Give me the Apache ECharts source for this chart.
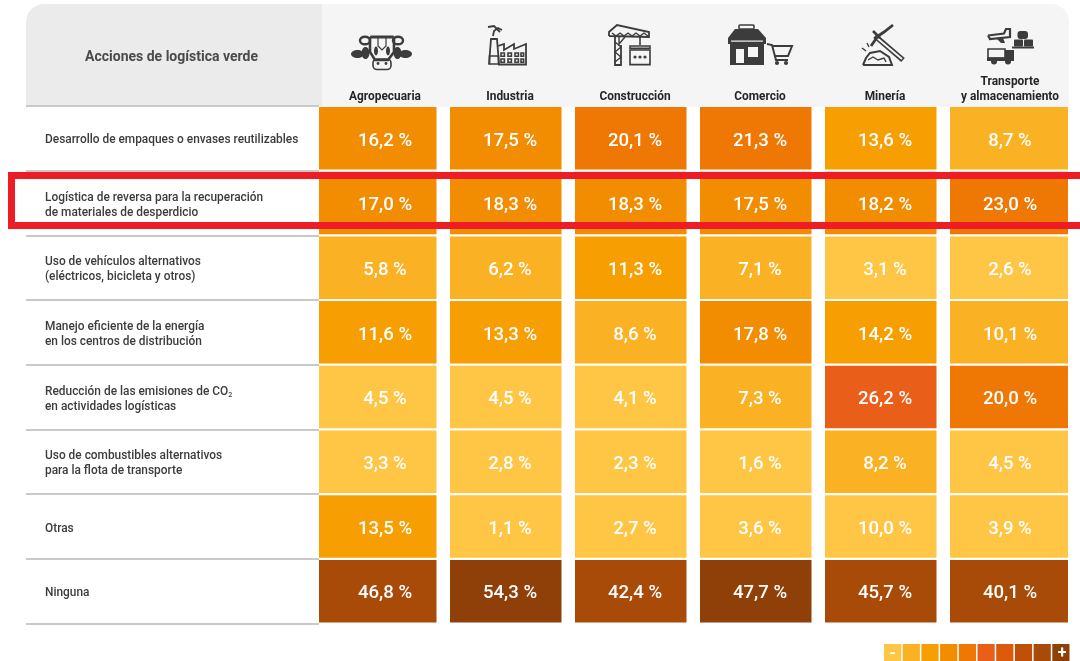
<!DOCTYPE html>
<html>
<head>
<meta charset="utf-8">
<style>
  html, body { margin: 0; padding: 0; background: #fff; }
  #chart { width: 1080px; height: 661px; }
</style>
<script src="https://cdn.jsdelivr.net/npm/echarts@6/dist/echarts.min.js"></script>
</head>
<body>
<div id="chart"></div>
<script>
const sectors = ['Agropecuaria', 'Industria', 'Construcción', 'Comercio', 'Minería', 'Transporte\ny almacenamiento']
const actions = [
  'Desarrollo de empaques o envases reutilizables',
  'Logística de reversa para la recuperación\nde materiales de desperdicio',
  'Uso de vehículos alternativos\n(eléctricos, bicicleta y otros)',
  'Manejo eficiente de la energía\nen los centros de distribución',
  'Reducción de las emisiones de CO2\nen actividades logísticas',
  'Uso de combustibles alternativos\npara la flota de transporte',
  'Otras',
  'Ninguna'
]
const values = [
  [16.2, 17.5, 20.1, 21.3, 13.6, 8.7],
  [17.0, 18.3, 18.3, 17.5, 18.2, 23.0],
  [5.8, 6.2, 11.3, 7.1, 3.1, 2.6],
  [11.6, 13.3, 8.6, 17.8, 14.2, 10.1],
  [4.5, 4.5, 4.1, 7.3, 26.2, 20.0],
  [3.3, 2.8, 2.3, 1.6, 8.2, 4.5],
  [13.5, 1.1, 2.7, 3.6, 10.0, 3.9],
  [46.8, 54.3, 42.4, 47.7, 45.7, 40.1]
]
// colour step of every cell (not strictly monotonic with the value)
const shades = [
  [3, 3, 4, 4, 2, 1],
  [3, 3, 3, 3, 3, 4],
  [1, 1, 2, 1, 0, 0],
  [2, 2, 1, 3, 2, 1],
  [0, 0, 0, 1, 5, 4],
  [0, 0, 0, 0, 1, 0],
  [2, 0, 0, 0, 0, 0],
  [8, 9, 8, 9, 8, 8]
]
const palette = ['#FFC645', '#FBB124', '#F79E02', '#F28C00', '#EF7703', '#E95F19', '#DB5A0C', '#C04F0A', '#A84A08', '#8F3F08']

const FONT = 'Roboto'
const INK = '#3c3c3c'
const PAPER = '#f5f5f5'

const cells = []
values.forEach((row, r) => row.forEach((v, c) => cells.push([c, r, v, shades[r][c]])))

function renderCell (params, api) {
  const col = api.value(0)
  const center = api.coord([col, api.value(1)])
  const band = api.size([1, 1])
  const left = center[0] - (col === 0 ? 66 : 60)
  const right = center[0] + (col === sectors.length - 1 ? 58 : 51.5)
  return {
    type: 'group',
    children: [
      {
        type: 'rect',
        shape: { x: left, y: center[1] - band[1] / 2 + 1, width: right - left, height: band[1] - 2.2 },
        style: { fill: api.visual('color') }
      },
      {
        type: 'text',
        style: {
          x: center[0],
          y: center[1] + 2.5,
          text: api.value(2).toFixed(1).replace('.', ',') + ' %',
          fill: '#fff',
          font: '500 18.6px ' + FONT,
          align: 'center',
          verticalAlign: 'middle'
        }
      }
    ]
  }
}

// small pictograms in the header
function box (x, y, width, height, filled, r) {
  return {
    type: 'rect',
    shape: { x, y, width, height, r: r || 0 },
    style: { fill: filled ? (filled === true ? INK : filled) : 'none', stroke: INK, lineWidth: filled ? 0 : 1.6 }
  }
}
function line (points, width) {
  return { type: 'polyline', shape: { points }, style: { fill: 'none', stroke: INK, lineWidth: width || 1.6 } }
}
function dot (cx, cy, r) {
  return { type: 'circle', shape: { cx, cy, r }, style: { fill: INK } }
}
function blob (cx, cy, rx, ry, filled) {
  return { type: 'ellipse', shape: { cx, cy, rx, ry }, style: { fill: filled ? INK : 'none', stroke: INK, lineWidth: filled ? 0 : 2.4 } }
}
function solid (points) {
  return { type: 'polygon', shape: { points }, style: { fill: INK } }
}

const icons = [
  // cow
  blob(365, 40.5, 5, 3.8), blob(398, 40.5, 5, 3.8),
  box(370, 35.5, 24, 3, true, 1),
  line([[370, 37], [370, 52], [375, 60], [388, 60], [394, 52], [394, 37]], 2.6),
  line([[378, 38], [378, 46], [382, 50], [386, 46], [386, 38]], 1.2),
  blob(376, 51, 2, 4.4, true), blob(388, 51, 2, 4.4, true),
  box(373, 59, 18, 10.5, false, 4),
  dot(378, 63.5, 1.4), dot(386, 63.5, 1.4),
  blob(357.5, 54, 6.5, 4, true), blob(365.5, 53, 4, 6, true),
  blob(405.5, 54, 6.5, 4, true), blob(397.5, 53, 4, 6, true),
  // factory
  line([[489, 64.5], [491, 39], [497, 39], [499, 64.5]], 1.8),
  box(489.5, 56, 9, 8, false),
  line([[493, 36], [494, 31], [498, 28], [502, 30]], 1.8),
  line([[488, 27], [494, 26], [500, 32]], 1.8),
  line([[498, 64.5], [526, 64.5], [526, 44], [514, 49], [514, 44], [504, 50], [504, 44], [498, 46]], 1.8),
  box(501, 53, 3.4, 3.2), box(508, 53, 3.4, 3.2), box(515, 53, 3.4, 3.2), box(521, 53, 2.6, 3.2),
  box(501, 59, 3.4, 3.2), box(508, 59, 3.4, 3.2), box(515, 59, 3.4, 3.2), box(521, 59, 2.6, 3.2),
  // crane
  line([[615, 37], [615, 65], [621, 65], [621, 45]], 1.8),
  line([[615, 42], [621, 47], [615, 52], [621, 57], [615, 62]], 1.4),
  line([[609, 36], [609, 32], [617, 25], [649, 32], [649, 37], [609, 36]], 1.8),
  line([[612, 33], [616, 36], [620, 33], [624, 36], [628, 33], [632, 36], [636, 33], [640, 36], [644, 33], [648, 36]], 1.4),
  line([[640, 37], [640, 45]]),
  line([[619, 37], [619, 44], [625, 37]], 1.4),
  box(630, 46, 20, 2.4), box(630, 50, 20, 14.6),
  dot(635, 57, 1.6), dot(640, 57, 1.6), dot(645, 57, 1.6),
  // shop
  box(739, 25, 15, 4, false, 1),
  solid([[735, 29], [758, 29], [766, 38], [766, 44], [728, 44], [728, 38]]),
  box(731, 40.5, 32, 1.2, PAPER),
  box(730, 44, 34, 21, true),
  box(736, 49, 8, 14, PAPER),
  box(748, 47, 10, 10, PAPER),
  line([[767, 44], [772, 45], [776, 60], [788, 60]], 2),
  line([[772, 46], [792, 46], [788, 56], [775, 56]], 2),
  dot(777, 63, 2.1), dot(786, 63, 2.1),
  // pick
  line([[875, 36], [903, 60]], 5.4),
  { type: 'polyline', shape: { points: [[877, 38], [902, 59]] }, style: { fill: 'none', stroke: PAPER, lineWidth: 2 } },
  line([[871, 46], [878, 36], [884, 32], [893, 25]], 2.8),
  line([[873, 31], [880, 38]], 2.6),
  line([[863, 65], [892, 65], [889, 57], [880, 51], [870, 53], [866, 58], [863, 65]], 2),
  line([[868, 60], [873, 57], [878, 60], [884, 58], [886, 62]], 1.4),
  line([[866, 51], [862, 48]], 1.4), line([[869, 47], [867, 43]], 1.4),
  // transport
  line([[988, 35.5], [1004, 33.5], [1006, 29], [1010, 29], [1010, 37], [990, 39], [988, 35.5]], 2.2),
  solid([[996, 38], [1003, 38], [1005, 43], [1001, 43]]),
  box(988, 49, 17, 9, false),
  box(1005, 50, 9, 9, true),
  box(987, 57.5, 27, 3.5, true),
  dot(994, 61.5, 3), dot(1008, 61.5, 3),
  box(1017.5, 31, 10.5, 8, true, 3),
  box(1014, 39.5, 9, 7, true, 1), box(1024, 39.5, 9, 7, true, 1),
  box(1012, 46.5, 22, 2, true)
].map(el => Object.assign(el, { z: 50 }))

const chart = echarts.init(document.getElementById('chart'))
chart.setOption({
  animation: false,
  backgroundColor: '#fff',
  grid: { left: 322.5, top: 106, width: 750, height: 517.6 },
  xAxis: {
    type: 'category',
    position: 'top',
    data: sectors,
    axisLine: { show: false },
    axisTick: { show: false },
    splitLine: { show: false },
    axisLabel: {
      interval: 0,
      margin: 2,
      color: '#262626',
      fontFamily: FONT,
      fontWeight: 700,
      fontSize: 11.9,
      lineHeight: 14.5,
      verticalAlign: 'bottom'
    }
  },
  yAxis: {
    type: 'category',
    inverse: true,
    data: actions,
    offset: 3.5,
    axisLine: { show: false },
    axisTick: { show: true, length: 293, lineStyle: { color: '#c9c9c9', width: 2 } },
    splitLine: { show: false },
    axisLabel: {
      interval: 0,
      margin: 274,
      align: 'left',
      color: INK,
      fontFamily: FONT,
      fontWeight: 500,
      fontSize: 11.9,
      lineHeight: 15,
      padding: [4, 0, 0, 0],
      formatter: value => value.replace('CO2', 'CO{sub|2}'),
      rich: { sub: { fontSize: 7, fontFamily: FONT, fontWeight: 500, color: INK, verticalAlign: 'bottom', padding: [5, 0, 0, 0] } }
    }
  },
  visualMap: {
    type: 'piecewise',
    dimension: 3,
    seriesIndex: 0,
    orient: 'horizontal',
    left: 884,
    top: 644,
    padding: 0,
    itemWidth: 17.2,
    itemHeight: 17,
    itemGap: 1.5,
    showLabel: false,
    itemSymbol: 'rect',
    hoverLink: false,
    pieces: palette.map((color, i) => ({ value: i, color }))
  },
  series: [
    {
      type: 'custom',
      coordinateSystem: 'cartesian2d',
      data: cells,
      encode: { x: 0, y: 1 },
      renderItem: renderCell
    }
  ],
  graphic: {
    elements: [
      { type: 'rect', z: -10, shape: { x: 320, y: 4, width: 749, height: 103, r: [0, 18, 0, 0] }, style: { fill: PAPER } },
      { type: 'rect', z: -9, shape: { x: 26, y: 4, width: 296, height: 102, r: [18, 0, 0, 0] }, style: { fill: '#ebebeb' } },
      {
        type: 'text',
        z: 50,
        style: { x: 171.5, y: 57, text: 'Acciones de logística verde', fill: '#4a4a4a', font: '700 14px ' + FONT, align: 'center', verticalAlign: 'middle' }
      },
      ...icons,
      // red highlight around the second row, runs off the right edge
      { type: 'rect', z: 60, shape: { x: 11.5, y: 175.5, width: 1100, height: 50 }, style: { fill: 'none', stroke: '#ee1c25', lineWidth: 7 } },
      { type: 'text', z: 60, style: { x: 892.6, y: 654, text: '-', fill: '#fff', font: '700 17px ' + FONT, align: 'center', verticalAlign: 'middle' } },
      { type: 'text', z: 60, style: { x: 1062, y: 654, text: '+', fill: '#fff', font: '700 16px ' + FONT, align: 'center', verticalAlign: 'middle' } }
    ]
  }
})
</script>
</body>
</html>
